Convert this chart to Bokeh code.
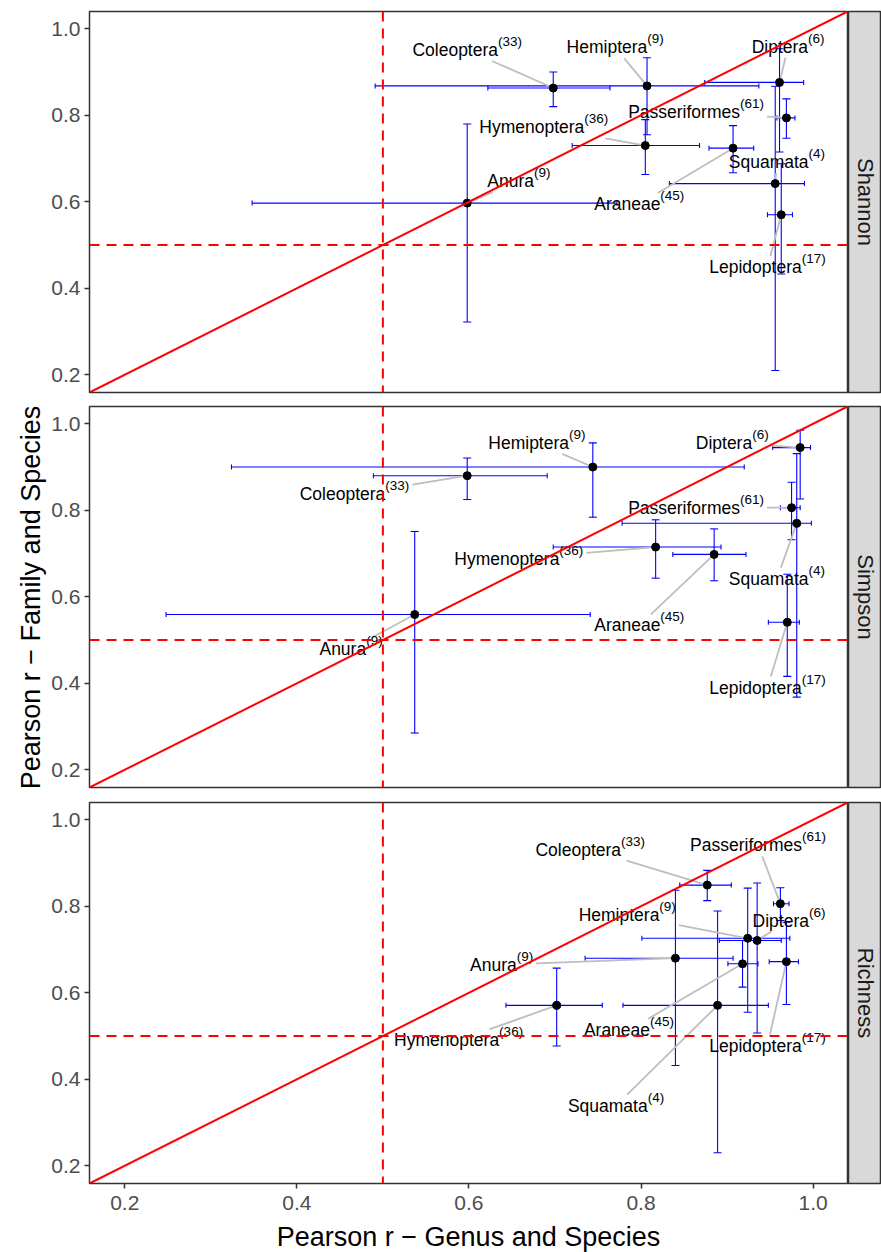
import numpy as np
from bokeh.plotting import figure
from bokeh.models import (ColumnDataSource, Range1d, FixedTicker, PrintfTickFormatter,
                          Span, Slope)
from bokeh.layouts import row, column
from bokeh.core.properties import value
from bokeh.embed import file_html
from bokeh.resources import INLINE

# ---------------- data ----------------
groups = ["Anura", "Araneae", "Coleoptera", "Diptera", "Hemiptera",
          "Hymenoptera", "Lepidoptera", "Passeriformes", "Squamata"]
n_families = [9, 45, 33, 6, 9, 36, 17, 61, 4]
metrics = ["Shannon", "Simpson", "Richness"]

# Pearson r genus-species (x) and family-species (y), with intervals
shannon_x    = [0.598, 0.907, 0.698, 0.961, 0.807, 0.805, 0.963, 0.969, 0.956]
shannon_x_lo = [0.348, 0.879, 0.622, 0.874, 0.491, 0.720, 0.947, 0.958, 0.833]
shannon_x_hi = [0.772, 0.931, 0.764, 0.989, 0.937, 0.868, 0.976, 0.979, 0.990]
shannon_y    = [0.597, 0.724, 0.863, 0.876, 0.868, 0.730, 0.570, 0.794, 0.642]
shannon_y_lo = [0.322, 0.667, 0.820, 0.715, 0.755, 0.663, 0.433, 0.747, 0.210]
shannon_y_hi = [0.780, 0.776, 0.900, 0.954, 0.933, 0.790, 0.688, 0.838, 0.867]

simpson_x    = [0.537, 0.885, 0.598, 0.985, 0.744, 0.817, 0.970, 0.975, 0.981]
simpson_x_lo = [0.248, 0.837, 0.489, 0.953, 0.324, 0.698, 0.948, 0.962, 0.778]
simpson_x_hi = [0.741, 0.922, 0.691, 0.997, 0.920, 0.893, 0.984, 0.985, 0.998]
simpson_y    = [0.559, 0.698, 0.880, 0.945, 0.900, 0.715, 0.541, 0.806, 0.770]
simpson_y_lo = [0.285, 0.637, 0.825, 0.826, 0.784, 0.643, 0.416, 0.732, 0.368]
simpson_y_hi = [0.751, 0.757, 0.921, 0.985, 0.956, 0.778, 0.652, 0.865, 0.931]

richness_x    = [0.840, 0.918, 0.877, 0.935, 0.924, 0.702, 0.969, 0.962, 0.889]
richness_x_lo = [0.735, 0.901, 0.845, 0.891, 0.801, 0.643, 0.949, 0.954, 0.779]
richness_x_hi = [0.907, 0.936, 0.905, 0.963, 0.973, 0.755, 0.983, 0.972, 0.948]
richness_y    = [0.680, 0.667, 0.849, 0.721, 0.726, 0.571, 0.672, 0.806, 0.571]
richness_y_lo = [0.432, 0.613, 0.813, 0.507, 0.555, 0.477, 0.573, 0.767, 0.230]
richness_y_hi = [0.837, 0.721, 0.883, 0.854, 0.842, 0.657, 0.763, 0.843, 0.789]

# repelled label centres (data coordinates)
shannon_lab_x  = [0.658, 0.798, 0.598, 0.971, 0.770, 0.687, 0.947, 0.864, 0.958]
shannon_lab_y  = [0.648, 0.595, 0.951, 0.959, 0.957, 0.772, 0.449, 0.807, 0.692]
simpson_lab_x  = [0.463, 0.798, 0.467, 0.906, 0.679, 0.658, 0.947, 0.864, 0.958]
simpson_lab_y  = [0.480, 0.534, 0.838, 0.956, 0.956, 0.688, 0.390, 0.806, 0.642]
richness_lab_x = [0.638, 0.786, 0.741, 0.972, 0.784, 0.588, 0.947, 0.936, 0.771]
richness_lab_y = [0.665, 0.514, 0.931, 0.767, 0.779, 0.490, 0.478, 0.941, 0.339]

x_ticks = [0.2, 0.4, 0.6, 0.8, 1.0]
y_ticks = [0.2, 0.4, 0.6, 0.8, 1.0]
x_title = "Pearson r \u2212 Genus and Species"
y_title = "Pearson r \u2212 Family and Species"

series = {
    "Shannon": (shannon_x, shannon_x_lo, shannon_x_hi, shannon_y, shannon_y_lo, shannon_y_hi,
                shannon_lab_x, shannon_lab_y),
    "Simpson": (simpson_x, simpson_x_lo, simpson_x_hi, simpson_y, simpson_y_lo, simpson_y_hi,
                simpson_lab_x, simpson_lab_y),
    "Richness": (richness_x, richness_x_lo, richness_x_hi, richness_y, richness_y_lo, richness_y_hi,
                 richness_lab_x, richness_lab_y),
}

# ---------------- layout / style ----------------
LIM = (0.159, 1.040)
FRAME_W, FRAME_H = 758, 381
YLAB_W = 48
LEFT, RIGHT = 41, 1
STRIP_W = 33
TOPS = [11, 7, 8]
BOTS = [7, 7, 38]
XTITLE_H = 31
FONT = "Liberation Sans"
FS, FS_SUP, RAISE = 17.5, 13.5, 8.5
BASE_DROP = 0.0          # px from label centre to the text baseline
KX = FRAME_W / (LIM[1] - LIM[0])
KY = FRAME_H / (LIM[1] - LIM[0])
ERR = "#0000FF"

ARIAL = {'A': 667, 'C': 722, 'D': 722, 'H': 722, 'L': 556, 'P': 667, 'S': 667,
         'a': 556, 'd': 556, 'e': 556, 'f': 278, 'i': 222, 'l': 222, 'm': 833,
         'n': 556, 'o': 556, 'p': 556, 'q': 556, 'r': 333, 's': 500, 't': 278,
         'u': 556, 'y': 500, '(': 333, ')': 333}
for d in "0123456789":
    ARIAL[d] = 556


def text_w(s, fs):
    return sum(ARIAL.get(c, 556) for c in s) * fs / 1000.0


def style_axis(ax, ticks):
    ax.ticker = FixedTicker(ticks=ticks)
    ax.formatter = PrintfTickFormatter(format="%.1f")
    ax.major_label_text_font = FONT
    ax.major_label_text_font_size = "21px"
    ax.major_label_text_color = "#4D4D4D"
    ax.axis_line_color = None
    ax.major_tick_line_color = "#333333"
    ax.major_tick_line_width = 1.5
    ax.major_tick_out = 5
    ax.major_tick_in = 0
    ax.minor_tick_line_color = None


rows = []
for i, m in enumerate(metrics):
    xs, xlo, xhi, ys, ylo, yhi, lxs, lys = series[m]
    height = TOPS[i] + FRAME_H + BOTS[i]
    p = figure(width=LEFT + FRAME_W + RIGHT, height=height,
               x_range=Range1d(*LIM), y_range=Range1d(*LIM),
               output_backend="svg", toolbar_location=None,
               min_border_left=LEFT, min_border_right=RIGHT,
               min_border_top=TOPS[i], min_border_bottom=BOTS[i])
    p.xgrid.visible = False
    p.ygrid.visible = False
    p.background_fill_color = "white"
    p.border_fill_color = "white"
    p.outline_line_color = "#333333"
    p.outline_line_width = 1.5

    style_axis(p.yaxis[0], y_ticks)
    p.yaxis[0].major_label_standoff = 4
    if i < len(metrics) - 1:
        p.xaxis.visible = False
    else:
        style_axis(p.xaxis[0], x_ticks)
        p.xaxis[0].major_label_standoff = 7

    src = ColumnDataSource(dict(x=xs, y=ys, xlo=xlo, xhi=xhi, ylo=ylo, yhi=yhi))

    # error bars (vertical and horizontal) with caps
    p.segment(x0="x", y0="ylo", x1="x", y1="yhi", source=src, line_color=ERR, line_width=1.1)
    p.segment(x0="xlo", y0="y", x1="xhi", y1="y", source=src, line_color=ERR, line_width=1.1)
    p.scatter(x="x", y="ylo", source=src, marker="dash", size=8, line_color=ERR, line_width=1.1)
    p.scatter(x="x", y="yhi", source=src, marker="dash", size=8, line_color=ERR, line_width=1.1)
    p.scatter(x="xlo", y="y", source=src, marker="dash", size=5, angle=np.pi / 2,
              line_color=ERR, line_width=1.1)
    p.scatter(x="xhi", y="y", source=src, marker="dash", size=5, angle=np.pi / 2,
              line_color=ERR, line_width=1.1)

    # reference lines
    p.add_layout(Slope(gradient=1, y_intercept=0, line_color="red", line_width=2))
    p.add_layout(Span(location=0.5, dimension="height", line_color="red",
                      line_width=2, line_dash="10 7"))
    p.add_layout(Span(location=0.5, dimension="width", line_color="red",
                      line_width=2, line_dash="10 7"))

    # labels with superscript family counts, plus leader segments
    mx, my, sx, sy, mains, sups = [], [], [], [], [], []
    x0, y0, x1, y1 = [], [], [], []
    for j, g in enumerate(groups):
        sup = "(%d)" % n_families[j]
        wm = text_w(g, FS)
        ws = text_w(sup, FS_SUP)
        wt = wm + ws
        lx, ly = lxs[j], lys[j]
        xm = lx - (wt / 2) / KX
        yb = ly - BASE_DROP / KY
        mx.append(xm); my.append(yb); mains.append(g)
        sx.append(xm + wm / KX); sy.append(yb + RAISE / KY); sups.append(sup)
        dxp = (xs[j] - lx) * KX
        dyp = (ys[j] - ly) * KY
        hwid = wt / 2 + 3
        hhei = 11.0
        tx = hwid / abs(dxp) if dxp != 0 else 1e9
        ty = hhei / abs(dyp) if dyp != 0 else 1e9
        t = min(tx, ty)
        if t < 0.92:
            x0.append(lx + t * dxp / KX); y0.append(ly + t * dyp / KY)
            x1.append(xs[j]); y1.append(ys[j])

    p.segment(x0=x0, y0=y0, x1=x1, y1=y1, line_color="#BEBEBE", line_width=1.8)
    p.scatter(x="x", y="y", source=src, size=8, color="black")
    p.text(x=mx, y=my, text=mains, text_font=value(FONT), text_font_size="%gpx" % FS,
           text_align="left", text_baseline="alphabetic", text_color="black")
    p.text(x=sx, y=sy, text=sups, text_font=value(FONT), text_font_size="%gpx" % FS_SUP,
           text_align="left", text_baseline="alphabetic", text_color="black")

    # facet strip
    s = figure(width=STRIP_W, height=height, x_range=Range1d(0, 1), y_range=Range1d(0, 1),
               output_backend="svg", toolbar_location=None,
               x_axis_type=None, y_axis_type=None,
               min_border_left=0, min_border_right=0,
               min_border_top=TOPS[i], min_border_bottom=BOTS[i])
    s.background_fill_color = "#D9D9D9"
    s.border_fill_color = "white"
    s.outline_line_color = "#333333"
    s.outline_line_width = 1.5
    s.text(x=[0.5], y=[0.5], text=[m], angle=-np.pi / 2, text_align="center",
           text_baseline="middle", text_font=value(FONT), text_font_size="22px",
           text_color="#1A1A1A")
    rows.append(row(p, s))

# x-axis title strip
xt = figure(width=LEFT + FRAME_W + RIGHT + STRIP_W, height=XTITLE_H,
            x_range=Range1d(0, LEFT + FRAME_W + RIGHT + STRIP_W), y_range=Range1d(0, XTITLE_H),
            output_backend="svg", toolbar_location=None,
            x_axis_type=None, y_axis_type=None,
            min_border_left=0, min_border_right=0, min_border_top=0, min_border_bottom=0)
xt.outline_line_color = None
xt.background_fill_color = "white"
xt.border_fill_color = "white"
xt.text(x=[LEFT + FRAME_W / 2], y=[XTITLE_H - 15], text=[x_title], text_align="center",
        text_baseline="middle", text_font=value(FONT), text_font_size="27px",
        text_color="black")

TOTAL_H = sum(TOPS) + 3 * FRAME_H + sum(BOTS) + XTITLE_H
ylab = figure(width=YLAB_W, height=TOTAL_H, x_range=Range1d(0, YLAB_W),
              y_range=Range1d(TOTAL_H, 0),
              output_backend="svg", toolbar_location=None,
              x_axis_type=None, y_axis_type=None,
              min_border_left=0, min_border_right=0, min_border_top=0, min_border_bottom=0)
ylab.outline_line_color = None
ylab.background_fill_color = "white"
ylab.border_fill_color = "white"
centre = (TOPS[0] + (TOTAL_H - XTITLE_H - BOTS[2])) / 2
ylab.text(x=[30], y=[centre], text=[y_title], angle=np.pi / 2, text_align="center",
          text_baseline="middle", text_font=value(FONT), text_font_size="27px",
          text_color="black")

layout = row(ylab, column(*rows, xt))
open("out.html", "w").write(file_html(layout, INLINE))
